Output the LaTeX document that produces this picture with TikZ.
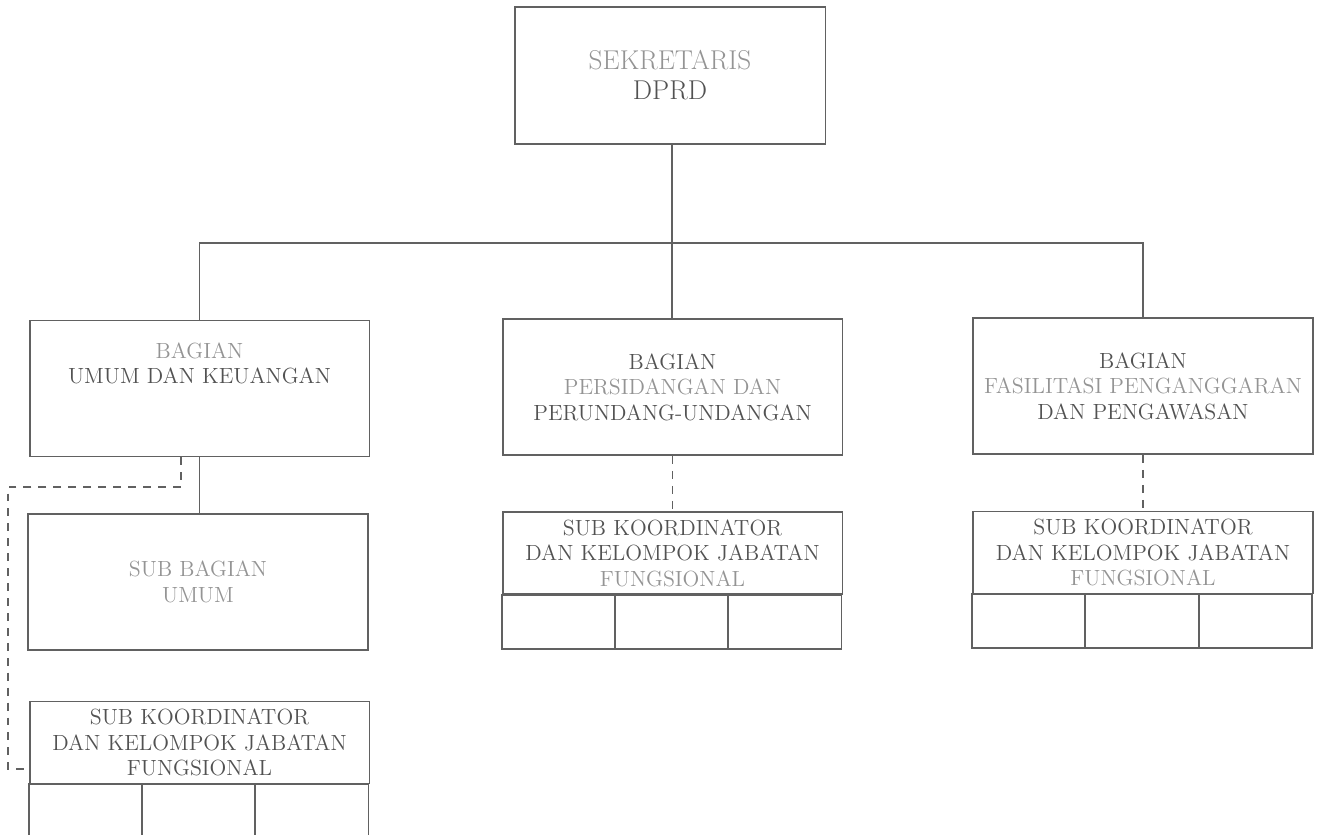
\documentclass[tikz,border=0pt]{standalone}
\usepackage{tikz}
\usetikzlibrary{positioning}

\definecolor{ink}{gray}{0.32}
\definecolor{pale}{gray}{0.58}
\definecolor{rule}{gray}{0.38}

\tikzset{
	unitbox/.style={draw=rule, line width=1.1pt, align=center, inner sep=0pt,
		minimum width=6.8cm, minimum height=2.72cm, text=ink,
		font=\fontsize{12.5}{14.5}\selectfont},
	headbox/.style={unitbox, minimum height=1.64cm},
	cellbox/.style={draw=rule, line width=1.1pt, inner sep=0pt, outer sep=0pt,
		minimum width=6.8cm/3, minimum height=1.08cm},
	link/.style={draw=rule, line width=1pt},
	dashline/.style={draw=rule, line width=1pt, dash pattern=on 4.5pt off 4pt},
}

\begin{document}
\begin{tikzpicture}[x=0.02cm,y=-0.02cm]
	\useasboundingbox (0,0) rectangle (1323,835);
	\clip (0,0) rectangle (1323,835);
	
	%TOP
	\node[unitbox, minimum width=6.22cm, minimum height=2.74cm,
		font=\fontsize{15.5}{17}\selectfont] (sek) at (670,75.5)
		{\textcolor{pale}{SEKRETARIS}\\DPRD};
	\coordinate (hub) at (672,243);
	
	%BAGIAN
	\node[unitbox] (bu) at (199.5,388.5)
		{\textcolor{pale}{BAGIAN}\\UMUM DAN KEUANGAN\\[14.5pt]\mbox{}};
	\node[unitbox] (bp) at (672.5,387)
		{BAGIAN\\\textcolor{pale}{PERSIDANGAN DAN}\\PERUNDANG-UNDANGAN};
	\node[unitbox] (bf) at (1143,386)
		{BAGIAN\\\textcolor{pale}{FASILITASI PENGANGGARAN}\\DAN PENGAWASAN};
	
	%SUB BAGIAN
	\node[unitbox, text=pale] (sb) at (198,582) {SUB BAGIAN\\UMUM};
	
	%SUB KOORDINATOR
	\node[headbox] (kl) at (199.5,742.5)
		{SUB KOORDINATOR\\DAN KELOMPOK JABATAN\\FUNGSIONAL};
	\node[headbox] (kp) at (672.5,553)
		{SUB KOORDINATOR\\DAN KELOMPOK JABATAN\\\textcolor{pale}{FUNGSIONAL}};
	\node[headbox] (kf) at (1143,552.5)
		{SUB KOORDINATOR\\DAN KELOMPOK JABATAN\\\textcolor{pale}{FUNGSIONAL}};
	%
	\foreach \k in {kl,kp,kf}{
		\node[cellbox, anchor=north west] (\k1) at (\k.south west) {};
		\node[cellbox, right=0pt of \k1] (\k2) {};
		\node[cellbox, right=0pt of \k2] (\k3) {};
	}
	
	%LINES
	\draw[link] (hub |- sek.south) -- (hub) -- (hub |- bp.north);
	\draw[link] (bu.north) |- (hub) -| (bf.north);
	\draw[link] (bu.south) -- (bu.south |- sb.north);
	%
	\draw[dashline] (bp) -- (kp);
	\draw[dashline] (bf) -- (kf);
	\coordinate (jog) at (8,487);
	\draw[dashline] ([xshift=-0.37cm]bu.south) |- (jog) |- ([yshift=-0.53cm]kl.west);
\end{tikzpicture}
\end{document}
